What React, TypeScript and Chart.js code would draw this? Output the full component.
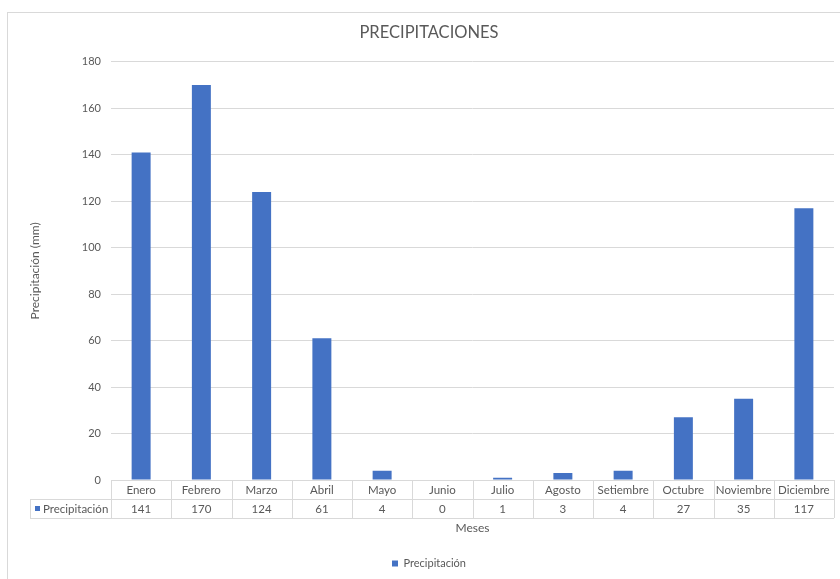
import React, { useEffect, useRef } from "react";
import { Chart, registerables } from "chart.js";

Chart.register(...registerables);

const months = ["Enero", "Febrero", "Marzo", "Abril", "Mayo", "Junio", "Julio", "Agosto", "Setiembre", "Octubre", "Noviembre", "Diciembre"];
const precipitation = [141, 170, 124, 61, 4, 0, 1, 3, 4, 27, 35, 117];
const seriesName = "Precipitación";
const titleText = "PRECIPITACIONES";
const yTitle = "Precipitación (mm)";
const xTitle = "Meses";

const FONT = "Lato, 'Open Sans', sans-serif";
const TEXT = "#595959";
const GRID = "#d9d9d9";
const BAR = "#4472C4";

const dataTablePlugin = {
  id: "dataTable",
  afterDraw(chart: any) {
    const { ctx, chartArea } = chart;
    const x = chart.scales.x;
    const n = months.length;
    const cw = (chartArea.right - chartArea.left) / n;
    const top = chartArea.bottom;
    const rh = 19;
    const labelLeft = 30;
    ctx.save();
    ctx.strokeStyle = GRID;
    ctx.lineWidth = 1;
    ctx.beginPath();
    ctx.moveTo(chartArea.left, top + 0.5);
    ctx.lineTo(chartArea.right, top + 0.5);
    ctx.moveTo(labelLeft, top + rh + 0.5);
    ctx.lineTo(chartArea.right, top + rh + 0.5);
    ctx.moveTo(labelLeft, top + 2 * rh + 0.5);
    ctx.lineTo(chartArea.right, top + 2 * rh + 0.5);
    for (let i = 0; i <= n; i++) {
      const px = Math.round(x.getPixelForValue(Math.min(i, n - 1)) + (i === n ? cw / 2 : -cw / 2)) + 0.5;
      ctx.moveTo(px, top);
      ctx.lineTo(px, top + 2 * rh);
    }
    ctx.moveTo(labelLeft + 0.5, top + rh);
    ctx.lineTo(labelLeft + 0.5, top + 2 * rh);
    ctx.stroke();

    ctx.fillStyle = TEXT;
    ctx.font = `11.5px ${FONT}`;
    ctx.textAlign = "center";
    ctx.textBaseline = "middle";
    for (let i = 0; i < n; i++) {
      const cx = x.getPixelForValue(i);
      ctx.fillText(months[i], cx, top + rh / 2 + 0.5);
      ctx.fillText(String(precipitation[i]), cx, top + rh * 1.5 + 0.5);
    }
    ctx.fillStyle = BAR;
    ctx.fillRect(labelLeft + 5, top + rh * 1.5 - 2.5, 5, 5);
    ctx.fillStyle = TEXT;
    ctx.textAlign = "left";
    ctx.fillText(seriesName, labelLeft + 13, top + rh * 1.5 + 0.5);
    ctx.restore();
  },
};

export default function App() {
  const ref = useRef<HTMLCanvasElement>(null);
  useEffect(() => {
    if (!ref.current) return;
    const chart = new Chart(ref.current, {
      type: "bar",
      data: {
        labels: months,
        datasets: [
          {
            label: seriesName,
            data: precipitation,
            backgroundColor: BAR,
            barPercentage: 0.315,
            categoryPercentage: 1,
          },
        ],
      },
      options: {
        animation: false,
        responsive: false,
        maintainAspectRatio: false,
        layout: { padding: { left: 24, right: 6, top: 10, bottom: 0 } },
        plugins: {
          title: {
            display: true,
            text: titleText,
            color: TEXT,
            font: { family: FONT, size: 16.5, weight: "normal" },
            padding: { top: 13, bottom: 19 },
          },
          legend: {
            display: true,
            position: "bottom",
            labels: {
              color: TEXT,
              font: { family: FONT, size: 11 },
              boxWidth: 6,
              boxHeight: 6,
              padding: 10,
            },
          },
          tooltip: { enabled: false },
        },
        scales: {
          x: {
            grid: { display: false },
            border: { display: false },
            ticks: { display: false },
            title: {
              display: true,
              text: xTitle,
              color: TEXT,
              font: { family: FONT, size: 12 },
              padding: { top: 32.6, bottom: 13 },
            },
          },
          y: {
            min: 0,
            max: 180,
            afterFit: (s: any) => {
              s.width = 87;
            },
            ticks: {
              stepSize: 20,
              color: TEXT,
              font: { family: FONT, size: 11 },
              padding: 10,
            },
            grid: { color: GRID, drawTicks: false },
            border: { display: false },
            title: {
              display: true,
              text: yTitle,
              color: TEXT,
              font: { family: FONT, size: 12 },
              padding: { top: 4, bottom: 4 },
            },
          },
        },
      },
      plugins: [dataTablePlugin],
    });
    return () => chart.destroy();
  }, []);
  return (
    <div style={{ position: "absolute", left: 0, top: 0, width: 840, height: 579, overflow: "hidden", background: "#fff" }}>
      <div style={{ position: "absolute", left: 7, top: 12, width: 900, height: 700, border: `1px solid ${GRID}` }} />
      <canvas ref={ref} width={840} height={579} style={{ position: "absolute", left: 0, top: 0, width: 840, height: 579 }} />
    </div>
  );
}
